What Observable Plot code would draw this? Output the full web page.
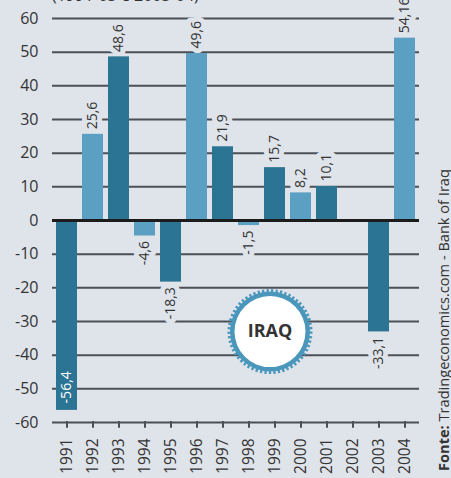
<!DOCTYPE html>
<html>
<head>
<meta charset="utf-8">
<script src="https://cdn.jsdelivr.net/npm/d3@7"></script>
<script src="https://cdn.jsdelivr.net/npm/@observablehq/plot@0.6"></script>
<style>
  html, body { margin: 0; padding: 0; background: #dfe3ea; }
  #wrap { position: relative; width: 451px; height: 478px; overflow: hidden; font-family: "Open Sans", sans-serif; color: #333; }
  #chart { position: absolute; left: 0; top: 0; }
  #sub { position: absolute; left: 52px; top: -13px; font-size: 16px; line-height: 16px; white-space: nowrap; color: #333; }
  #src { position: absolute; left: 435px; top: 471px; transform-origin: 0 0; transform: rotate(-90deg); font-size: 14.6px; line-height: 16px; white-space: nowrap; color: #333; }
</style>
</head>
<body>
<div id="wrap">
  <div id="chart"></div>
  <div id="sub"></div>
  <div id="src"></div>
</div>
<script>
const years = ["1991","1992","1993","1994","1995","1996","1997","1998","1999","2000","2001","2002","2003","2004"];
const values = [-56.4, 25.6, 48.6, -4.6, -18.3, 49.6, 21.9, -1.5, 15.7, 8.2, 10.1, null, -33.1, 54.16];
const yTicks = [-60, -50, -40, -30, -20, -10, 0, 10, 20, 30, 40, 50, 60];
const gridTicks = [-60, -50, -40, -30, -20, -10, 10, 20, 30, 40, 50, 60];
const badge = [{year: "1999", value: -32.4, label: "IRAQ"}];
const subtitle = "(1991-03 e 2003-04)";
const sourceLabel = "Fonte:";
const sourceText = " Tradingeconomics.com - Bank of Iraq";

const bg = "#dfe3ea";
const dark = "#2c7493";
const light = "#5b9fc2";
const badgeBlue = "#4a97bb";
const gridColor = "#4b5058";

document.getElementById("sub").textContent = subtitle;
const src = document.getElementById("src");
const b = document.createElement("b"); b.textContent = sourceLabel;
src.appendChild(b); src.appendChild(document.createTextNode(sourceText));

const data = years.map((year, i) => ({year, value: values[i], i}));
const fmt = d => String(d.value).replace(".", ",");
const pos = data.filter(d => d.value != null && d.value > 0);
const neg = data.filter(d => d.value != null && d.value < 0 && d.value > -50);
const inside = data.filter(d => d.value != null && d.value <= -50);
const yMin = yTicks[0];

const chart = Plot.plot({
  width: 451,
  height: 478,
  marginTop: 18,
  marginBottom: 56,
  marginLeft: 52,
  marginRight: 32,
  style: {background: "transparent", fontFamily: "'Open Sans', sans-serif", color: "#333"},
  x: {type: "band", domain: years, paddingInner: 0.2, paddingOuter: 0},
  y: {domain: [yTicks[0], yTicks[yTicks.length - 1]]},
  marks: [
    Plot.ruleY(gridTicks, {stroke: gridColor, strokeWidth: 2}),
    Plot.ruleX(years, {x: d => d, y1: yMin + 0.3, y2: yMin - 1.7, stroke: gridColor, strokeWidth: 2}),
    Plot.text(pos, {x: "year", y: "value", text: fmt, rotate: -90, textAnchor: "start", dy: -5, fontSize: 14, fill: "#333", stroke: bg, strokeWidth: 10}),
    Plot.text(neg, {x: "year", y: "value", text: fmt, rotate: -90, textAnchor: "end", dy: 5, fontSize: 14, fill: "#333", stroke: bg, strokeWidth: 10}),
    Plot.barY(data.filter(d => d.value != null), {x: "year", y: "value", fill: d => d.i % 2 === 0 ? dark : light}),
    Plot.text(inside, {x: "year", y: "value", text: fmt, rotate: -90, textAnchor: "start", dy: -7, fontSize: 14, fill: "white"}),
    Plot.ruleY([0], {stroke: "#1c1c1c", strokeWidth: 2.8}),
    Plot.axisY({ticks: yTicks, tickSize: 0, tickPadding: 14, fontSize: 16, label: null, tickFormat: d => d < 0 ? "-" + (-d) : String(d)}),
    Plot.axisX({tickSize: 0, tickPadding: 16, tickRotate: -90, fontSize: 15.5, label: null}),
    Plot.dot(badge, {x: "year", y: "value", dx: -5, dy: 2, r: 40, fill: badgeBlue, stroke: badgeBlue, strokeWidth: 5, strokeDasharray: "2.2 2.2"}),
    Plot.dot(badge, {x: "year", y: "value", dx: -5, dy: 2, r: 35.5, fill: "white"}),
    Plot.text(badge, {x: "year", y: "value", dx: -5, dy: 2, text: "label", fontSize: 18, fontWeight: "bold", fill: "#333", fontFamily: "'Liberation Sans Narrow', 'Open Sans', sans-serif"})
  ]
});
document.getElementById("chart").appendChild(chart);
</script>
</body>
</html>
